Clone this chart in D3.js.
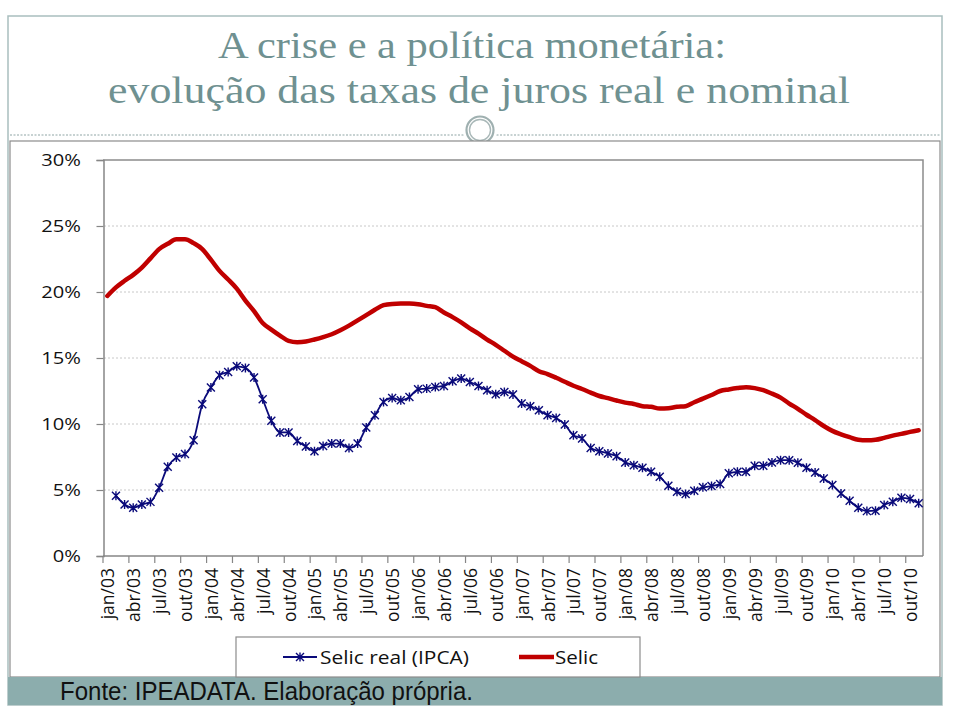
<!DOCTYPE html>
<html><head><meta charset="utf-8">
<script src="https://cdn.jsdelivr.net/npm/d3@7"></script>
<style>body{margin:0;background:#fff}svg{display:block}</style>
</head><body>
<svg id="c" width="960" height="722"></svg>
<script>
const monthNames = ["jan","fev","mar","abr","mai","jun","jul","ago","set","out","nov","dez"];
const years = ["03","04","05","06","07","08","09","10"];
const categories = [];
years.forEach(y => monthNames.forEach(m => categories.push(m + "/" + y)));
categories.length = 95; // jan/03 .. nov/10

const selic = [19.7,20.35,20.85,21.3,21.85,22.55,23.25,23.65,24.0,24.0,23.7,23.25,22.45,21.6,20.95,20.25,19.35,18.55,17.65,17.15,16.7,16.3,16.2,16.25,
16.4,16.58,16.8,17.1,17.45,17.85,18.25,18.65,19.0,19.1,19.12,19.12,19.08,18.95,18.85,18.45,18.1,17.7,17.25,16.85,16.4,16.0,15.55,15.1,
14.75,14.4,14.0,13.78,13.5,13.2,12.9,12.65,12.38,12.12,11.96,11.78,11.62,11.52,11.35,11.3,11.17,11.2,11.3,11.35,11.65,11.92,12.2,12.5,
12.62,12.72,12.79,12.72,12.56,12.3,12.0,11.55,11.15,10.7,10.3,9.85,9.48,9.22,9.0,8.8,8.76,8.8,8.95,9.12,9.25,9.4,9.52];

// Selic real (IPCA) starts at fev/03
const selicReal = [4.56,3.91,3.66,3.91,4.1,5.17,6.76,7.47,7.72,8.77,11.5,12.76,13.69,13.94,14.37,14.24,13.52,11.88,10.24,9.36,9.36,8.72,8.3,
7.94,8.34,8.52,8.52,8.19,8.52,9.73,10.67,11.67,11.97,11.8,12.05,12.63,12.68,12.8,12.88,13.24,13.44,13.18,12.88,12.56,12.25,12.43,12.24,
11.55,11.35,11.04,10.67,10.46,9.96,9.15,8.9,8.19,7.94,7.77,7.56,7.09,6.88,6.68,6.38,6.0,5.32,4.86,4.69,4.94,5.2,5.3,5.45,
6.26,6.38,6.38,6.83,6.83,7.09,7.26,7.26,7.06,6.68,6.33,5.88,5.37,4.74,4.18,3.65,3.4,3.43,3.86,4.11,4.41,4.31,3.99];

const yTicks = [0,5,10,15,20,25,30];
const titleLines = ["A crise e a política monetária:", "evolução das taxas de juros real e nominal"];
const seriesNames = ["Selic real (IPCA)", "Selic"];
const source = "Fonte: IPEADATA. Elaboração própria.";

const svg = d3.select("#c");
const teal = "#6F9191";

// slide frame
svg.append("rect").attr("x",8).attr("y",16).attr("width",934).attr("height",689)
  .attr("fill","#fff").attr("stroke","#A9BEBE").attr("stroke-width",1.5);

// title
svg.append("text").attr("x",472).attr("y",58).attr("text-anchor","middle")
  .attr("font-family","Liberation Serif, serif").attr("font-size",38).attr("fill",teal)
  .attr("textLength",508).attr("lengthAdjust","spacingAndGlyphs").text(titleLines[0]);
svg.append("text").attr("x",479).attr("y",103).attr("text-anchor","middle")
  .attr("font-family","Liberation Serif, serif").attr("font-size",38).attr("fill",teal)
  .attr("textLength",742).attr("lengthAdjust","spacingAndGlyphs").text(titleLines[1]);

// dotted divider + ornament
svg.append("line").attr("x1",10).attr("x2",940).attr("y1",135).attr("y2",135)
  .attr("stroke","#8FA5A5").attr("stroke-width",1).attr("stroke-dasharray","2,1.5");
svg.append("circle").attr("cx",480).attr("cy",130).attr("r",17).attr("fill","#fff");
svg.append("circle").attr("cx",480).attr("cy",130).attr("r",13.5).attr("fill","none").attr("stroke","#9FB0B0").attr("stroke-width",2.2);
svg.append("circle").attr("cx",480).attr("cy",130).attr("r",10.5).attr("fill","none").attr("stroke","#A9B8B8").attr("stroke-width",1.4);

// chart box
svg.append("rect").attr("x",10).attr("y",141).attr("width",930).attr("height",536)
  .attr("fill","#fff").attr("stroke","#8C8C8C").attr("stroke-width",1.2);

// footer band
svg.append("rect").attr("x",8).attr("y",677).attr("width",934).attr("height",28).attr("fill","#8CADAD");
svg.append("text").attr("x",60).attr("y",700).attr("font-family","Liberation Sans Narrow, Liberation Sans, Arial, sans-serif")
  .attr("font-size",25).attr("fill","#111").attr("textLength",413).attr("lengthAdjust","spacingAndGlyphs").text(source);

// plot
const x = d3.scaleBand().domain(categories).range([103,923]).padding(0);
const y = d3.scaleLinear().domain([0,30]).range([556,160]);
const cx = c => x(c) + x.bandwidth()/2;

const g = svg.append("g");
// gridlines
g.selectAll("line.grid").data(yTicks.filter(t => t>0 && t<30)).join("line")
  .attr("x1",104).attr("x2",923).attr("y1",d=>y(d)).attr("y2",d=>y(d))
  .attr("stroke","#C8C8C8").attr("stroke-width",1).attr("stroke-dasharray","2,2");
// plot border (top/right)
g.append("path").attr("d",`M103,${y(30)}H923V${y(0)}`).attr("fill","none").attr("stroke","#8C8C8C").attr("stroke-width",1.5);

// y axis
const yAxis = d3.axisLeft(y).tickValues(yTicks).tickSize(7).tickPadding(0).tickFormat(d => d + "%");
const ya = g.append("g").attr("transform","translate(103.5,0)").call(yAxis);
ya.select(".domain").attr("stroke","#868686").attr("stroke-width",1.5);
ya.selectAll(".tick line").attr("stroke","#868686").attr("stroke-width",1.2);
ya.selectAll(".tick text").attr("font-family","Open Sans, sans-serif").attr("font-size",16.5).attr("fill","#111")
  .attr("x",0).attr("dy","0.35em")
  .attr("transform","translate(-22.5,0) scale(1.22,1)");

// x axis
const labelCats = categories.filter((c,i) => i % 3 === 0);
const xAxis = d3.axisBottom(x).tickValues(labelCats).tickSize(0).tickPadding(0);
const xa = g.append("g").attr("transform",`translate(0,${y(0)})`).call(xAxis);
xa.select(".domain").attr("stroke","#868686").attr("stroke-width",1.5).attr("d",`M103,0H923`);
xa.selectAll(".tick text").attr("font-family","Open Sans, sans-serif").attr("font-size",17.5).attr("fill","#111")
  .attr("text-anchor","end").attr("dy",null).attr("y",0)
  .attr("transform","translate(7,12) rotate(-90)");
// tick marks at category boundaries
g.selectAll("line.xt").data(labelCats).join("line")
  .attr("x1",d=>x(d)).attr("x2",d=>x(d)).attr("y1",y(0)).attr("y2",y(0)+7)
  .attr("stroke","#868686").attr("stroke-width",1.2);

// lines
const lineGen = d3.line().x(d=>cx(d.c)).y(d=>y(d.v)).curve(d3.curveMonotoneX);
const selicData = selic.map((v,i)=>({c:categories[i], v}));
const realData = selicReal.map((v,i)=>({c:categories[i+1], v}));

g.append("path").attr("d",lineGen(selicData)).attr("fill","none")
  .attr("stroke","#C00000").attr("stroke-width",4.5).attr("stroke-linejoin","round").attr("stroke-linecap","round");
g.append("path").attr("d",lineGen(realData)).attr("fill","none")
  .attr("stroke","#0A0A7A").attr("stroke-width",1.8).attr("stroke-linejoin","round");
const star = "M-4,-4L4,4M-4,4L4,-4M0,-4.5L0,4.5";
g.selectAll("path.mk").data(realData).join("path")
  .attr("transform",d=>`translate(${cx(d.c)},${y(d.v)})`).attr("d",star)
  .attr("fill","none").attr("stroke","#0A0A7A").attr("stroke-width",1.4);

// legend
const lg = svg.append("g");
lg.append("rect").attr("x",236).attr("y",637).attr("width",404).attr("height",40)
  .attr("fill","#fff").attr("stroke","#8C8C8C").attr("stroke-width",1.2);
lg.append("line").attr("x1",283).attr("x2",317).attr("y1",657).attr("y2",657).attr("stroke","#0A0A7A").attr("stroke-width",1.8);
lg.append("path").attr("transform","translate(300,657)").attr("d",star).attr("fill","none").attr("stroke","#0A0A7A").attr("stroke-width",1.4);
lg.append("text").attr("x",320).attr("y",664).attr("font-family","Open Sans, sans-serif").attr("font-size",18.5).attr("fill","#111")
  .attr("textLength",149).attr("lengthAdjust","spacingAndGlyphs").text(seriesNames[0]);
lg.append("line").attr("x1",519).attr("x2",554).attr("y1",657).attr("y2",657).attr("stroke","#C00000").attr("stroke-width",4.5);
lg.append("text").attr("x",555).attr("y",664).attr("font-family","Open Sans, sans-serif").attr("font-size",18.5).attr("fill","#111")
  .attr("textLength",43).attr("lengthAdjust","spacingAndGlyphs").text(seriesNames[1]);
</script>
</body></html>
